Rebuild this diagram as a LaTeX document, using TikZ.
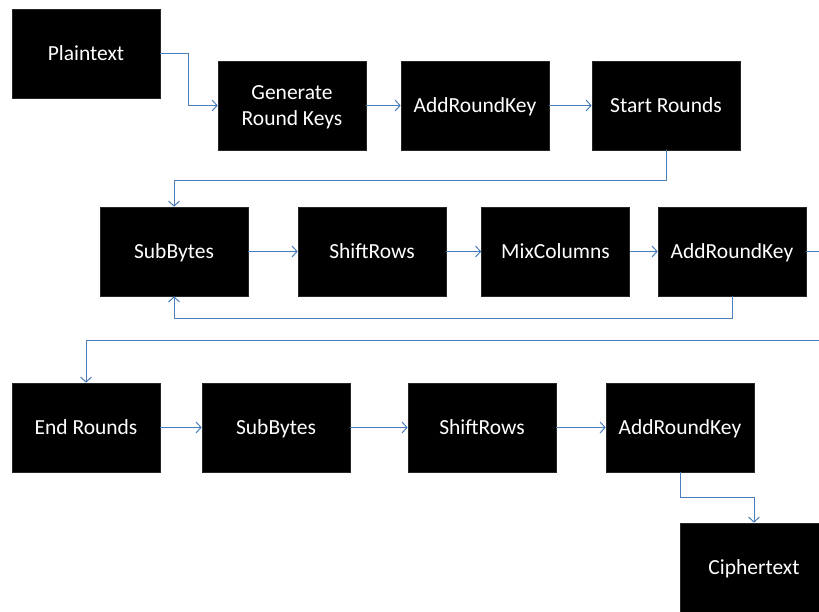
\documentclass[tikz,border=0pt]{standalone}
\usepackage{fontspec}
\setmainfont{Carlito}
\usetikzlibrary{arrows.meta}
\definecolor{conn}{RGB}{74,126,187}
\begin{document}
\begin{tikzpicture}[x=1pt,y=-1pt,
  box/.style={fill=black,draw=black!85,line width=0.6pt,minimum width=148pt,minimum height=89pt,inner sep=0pt,
    text=white,align=center,font=\fontsize{21.5}{26}\selectfont},
  onel/.style={box,text height=1.3em,text depth=0pt},
  conline/.style={draw=conn,line width=1pt},
  arr/.style={conline,-{Straight Barb[length=5pt,width=11pt,line width=1pt]}}]
\useasboundingbox (0,0) rectangle (819,611);
\clip (0,0) rectangle (819,611);
\node[onel] (pt) at (86,53.5) {Plaintext};
\node[box,text depth=-2pt] (gen) at (292,105.5) {Generate\\Round Keys};
\node[onel] (ark1) at (475,105.5) {AddRoundKey};
\node[onel] (start) at (666,105.5) {Start Rounds};
\node[onel] (sb2) at (174,251.5) {SubBytes};
\node[onel] (sr2) at (372,251.5) {ShiftRows};
\node[onel] (mc) at (555.5,251.5) {MixColumns};
\node[onel] (ark2) at (732,251.5) {AddRoundKey};
\node[onel] (endr) at (86,427.5) {End Rounds};
\node[onel] (sb3) at (276,427.5) {SubBytes};
\node[onel] (sr3) at (482,427.5) {ShiftRows};
\node[onel] (ark3) at (680,427.5) {AddRoundKey};
\node[onel] (ciph) at (754,567.5) {Ciphertext};
\coordinate (turn) at (835,340);
\draw[arr] (pt.east) -- ++(28,0) |- (gen.west);
\draw[arr] (gen) -- (ark1);
\draw[arr] (ark1) -- (start);
\draw[arr] (start.south) -- ++(0,30) -| (sb2.north);
\draw[arr] (sb2) -- (sr2);
\draw[arr] (sr2) -- (mc);
\draw[arr] (mc) -- (ark2);
\draw[arr] (ark2.south) -- ++(0,22) -| (sb2.south);
\draw[arr] (ark2.east) -| (turn) -| (endr.north);
\draw[arr] (endr) -- (sb3);
\draw[arr] (sb3) -- (sr3);
\draw[arr] (sr3) -- (ark3);
\draw[arr] (ark3.south) -- ++(0,25) -| (ciph.north);
\end{tikzpicture}
\end{document}
